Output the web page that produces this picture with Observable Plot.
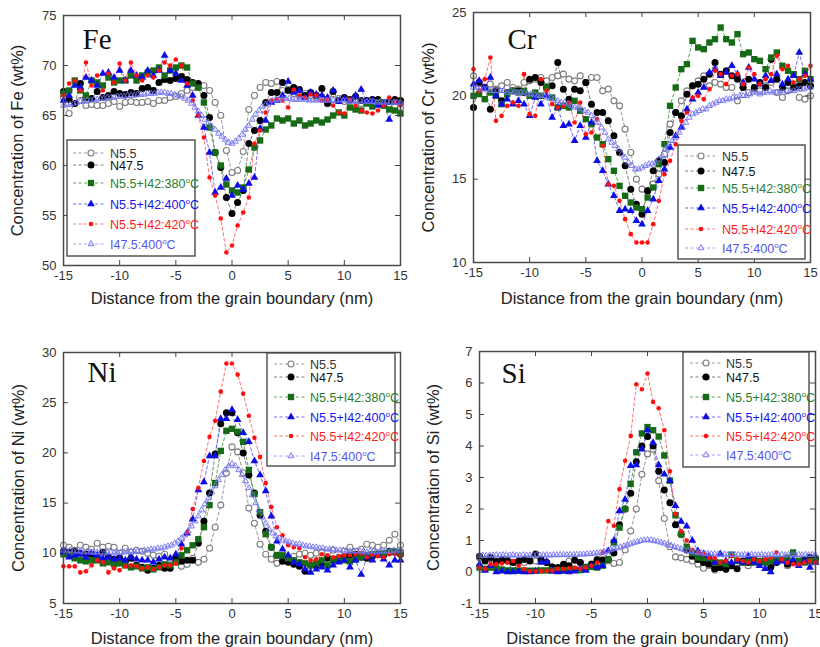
<!DOCTYPE html>
<html><head><meta charset="utf-8">
<script src="https://cdn.jsdelivr.net/npm/d3@7"></script>
<script src="https://cdn.jsdelivr.net/npm/@observablehq/plot@0.6"></script>
<style>
body{margin:0;background:#fff;}
#wrap{position:relative;width:820px;height:647px;overflow:hidden;font-family:"Liberation Sans",Arial,sans-serif;background:#fff;}
.panel{position:absolute;}
.panel svg{position:absolute;left:0;top:0;overflow:visible;}
</style></head><body><div id="wrap"></div>
<script>
// ---------- DATA ----------
const xs = [-15,-14.5,-14,-13.5,-13,-12.5,-12,-11.5,-11,-10.5,-10,-9.5,-9,-8.5,-8,-7.5,-7,-6.5,-6,-5.5,-5,-4.5,-4,-3.5,-3,-2.5,-2,-1.5,-1,-0.5,0,0.5,1,1.5,2,2.5,3,3.5,4,4.5,5,5.5,6,6.5,7,7.5,8,8.5,9,9.5,10,10.5,11,11.5,12,12.5,13,13.5,14,14.5,15];
const xsDense = [-15,-14.7,-14.4,-14.1,-13.8,-13.5,-13.2,-12.9,-12.6,-12.3,-12,-11.7,-11.4,-11.1,-10.8,-10.5,-10.2,-9.9,-9.6,-9.3,-9,-8.7,-8.4,-8.1,-7.8,-7.5,-7.2,-6.9,-6.6,-6.3,-6,-5.7,-5.4,-5.1,-4.8,-4.5,-4.2,-3.9,-3.6,-3.3,-3,-2.7,-2.4,-2.1,-1.8,-1.5,-1.2,-0.9,-0.6,-0.3,0,0.3,0.6,0.9,1.2,1.5,1.8,2.1,2.4,2.7,3,3.3,3.6,3.9,4.2,4.5,4.8,5.1,5.4,5.7,6,6.3,6.6,6.9,7.2,7.5,7.8,8.1,8.4,8.7,9,9.3,9.6,9.9,10.2,10.5,10.8,11.1,11.4,11.7,12,12.3,12.6,12.9,13.2,13.5,13.8,14.1,14.4,14.7,15];

const seriesBase = ["N5.5","N47.5","N5.5+I42:380","N5.5+I42:400","N5.5+I42:420","I47.5:400"];
const seriesHasTemp = [false,false,true,true,true,true];
const xTicks = [-15,-10,-5,0,5,10,15];
const xTitle = "Distance from the grain boundary (nm)";

// Fe
const feTicks = [50,55,60,65,70,75];
const feN55 = [66.8,65.2,66.2,66.5,66.0,66.1,66.0,66.0,66.2,66.4,
 65.9,66.3,66.4,66.3,66.3,66.4,66.2,66.5,66.5,66.8,
 66.9,67.2,67.5,67.8,67.8,68.0,67.5,66.3,65.0,61.5,
 59.3,59.5,61.4,65.6,67.0,67.8,68.3,68.2,68.4,67.5,
 67.6,67.2,67.0,67.2,67.0,66.8,66.8,66.5,66.6,66.7,
 66.4,66.5,66.6,66.2,66.3,66.2,66.3,66.0,66.1,65.9,65.8];
const feN475 = [67.4,66.6,66.2,68.2,66.8,66.7,67.4,66.8,67.0,67.4,
 67.2,67.1,67.3,67.2,67.7,67.8,67.5,68.3,68.6,68.5,
 68.7,68.9,68.6,68.3,68.2,67.0,64.8,61.3,59.8,56.8,
 55.2,56.3,57.5,62.2,63.5,64.5,66.3,67.3,67.3,68.3,
 67.5,67.8,67.6,67.0,67.3,67.0,67.7,66.2,67.4,66.5,
 66.8,66.6,66.9,66.5,66.5,66.6,66.6,66.3,66.4,66.6,66.5];
const fe380 = [67.2,67.5,68.5,67.5,67.0,68.5,68.3,68.0,68.8,68.3,
 68.5,68.5,69.0,68.5,69.0,69.3,69.5,69.8,69.0,69.5,
 69.8,70.0,69.8,68.2,67.8,66.3,63.8,61.3,60.0,58.1,
 57.5,57.3,57.8,59.6,61.8,62.5,63.6,64.0,64.7,64.5,
 64.7,64.2,64.5,64.0,64.2,64.5,64.3,64.6,65.0,65.3,
 65.0,65.8,65.6,65.5,66.2,65.9,66.3,66.0,65.6,65.5,65.2];
const fe400 = [66.5,67.0,68.0,67.8,68.8,68.5,68.0,69.2,69.3,68.8,
 69.5,68.5,69.5,69.0,68.8,69.5,69.0,69.5,71.0,69.5,
 69.2,68.5,68.0,67.0,65.0,63.8,61.3,57.3,57.8,58.7,
 57.0,58.0,57.6,58.2,58.8,63.7,64.5,66.3,66.5,67.0,
 68.4,67.3,67.5,66.8,67.3,67.1,67.0,66.8,67.5,66.4,
 66.7,66.5,67.0,67.6,66.4,66.5,66.0,66.2,64.6,66.3,66.3];
const fe420 = [67.0,68.2,68.5,67.5,70.3,68.0,69.0,67.5,69.2,68.3,
 70.2,68.5,70.3,69.0,68.5,69.0,68.8,69.5,70.3,70.0,
 70.6,70.0,68.2,66.5,65.0,62.8,58.8,57.0,54.7,51.3,
 52.0,54.0,55.3,56.8,62.2,63.5,65.3,66.5,66.6,66.5,
 65.8,67.6,67.0,66.8,67.1,67.0,66.5,66.6,66.0,65.3,
 65.2,66.6,66.0,65.5,65.3,65.2,65.5,66.0,66.8,66.4,66.0];
const feI475 = [66.0,66.1,66.1,66.2,66.3,66.4,66.4,66.5,66.5,66.6,
 66.6,66.7,66.7,66.8,66.8,66.8,66.9,66.9,66.9,67.0,
 67.0,67.0,67.1,67.1,67.1,67.2,67.2,67.2,67.3,67.3,
 67.3,67.2,67.2,67.1,67.0,66.9,66.7,66.5,66.2,65.8,
 65.4,65.0,64.6,64.3,63.9,63.6,63.2,62.9,62.6,62.3,
 62.2,62.4,62.7,63.1,63.6,64.0,64.6,65.1,65.5,65.9,
 66.1,66.3,66.5,66.6,66.6,66.7,66.7,66.7,66.6,66.6,
 66.6,66.6,66.6,66.5,66.6,66.5,66.6,66.5,66.5,66.5,
 66.5,66.5,66.6,66.5,66.5,66.4,66.5,66.4,66.5,66.4,
 66.4,66.4,66.4,66.3,66.4,66.3,66.4,66.3,66.3,66.3,66.3];

// Cr
const crTicks = [10,15,20,25];
const crN55 = [21.2,20.8,20.5,20.7,20.4,20.6,20.8,20.5,20.4,20.8,
 20.9,21.0,21.1,20.9,21.1,21.2,21.3,21.0,20.9,21.2,
 20.8,21.1,21.1,20.3,20.4,19.7,19.4,18.0,16.6,15.0,
 14.4,14.3,14.7,15.3,16.5,18.3,19.0,19.7,20.3,20.6,
 20.9,21.2,20.6,20.8,20.7,20.5,20.5,19.7,20.5,20.2,
 20.4,20.3,20.6,20.8,20.2,19.9,20.3,20.5,19.9,19.8,20.0];
const crN475 = [19.3,20.8,20.5,19.2,20.3,19.7,20.2,20.3,20.3,20.2,
 21.0,21.1,20.8,20.5,20.6,22.0,20.4,19.8,20.4,20.3,
 20.8,19.5,19.0,19.0,18.5,17.6,16.6,15.8,14.4,13.5,
 12.9,14.3,15.5,16.1,16.0,17.8,19.0,18.8,20.1,20.6,
 20.7,21.0,21.3,22.0,21.3,21.5,21.2,21.0,20.5,21.0,
 20.5,20.8,20.5,22.2,21.0,20.5,20.8,20.5,20.6,20.8,20.6];
const cr380 = [20.0,20.1,19.8,20.2,20.0,19.5,20.1,20.3,20.2,20.3,
 20.0,20.2,20.0,20.5,19.9,19.3,19.4,19.3,19.7,19.1,
 18.6,18.3,17.5,17.1,16.2,15.5,14.6,14.0,13.6,13.3,
 13.2,13.9,14.5,15.9,17.1,19.4,20.5,21.6,21.9,23.3,
 22.9,22.8,23.2,23.4,24.1,23.4,23.2,23.7,22.5,22.6,
 22.2,22.1,21.6,22.3,22.6,21.8,21.5,21.3,21.0,21.5,21.0];
const cr400 = [20.7,20.9,20.5,21.1,20.0,19.5,19.8,19.5,19.7,19.5,
 18.8,19.9,19.5,20.0,18.7,19.3,18.2,18.3,17.3,18.2,
 17.5,18.4,16.1,15.5,14.7,14.0,13.1,13.2,13.1,12.5,
 12.3,13.1,13.8,14.9,15.6,16.9,17.6,18.1,19.2,19.8,
 20.2,20.5,21.4,21.6,21.2,21.4,21.8,21.3,20.8,21.7,
 21.0,20.7,21.2,20.9,21.3,20.7,21.0,21.2,22.6,21.3,21.0];
const cr420 = [21.6,20.3,21.0,22.3,18.5,18.8,19.4,19.6,19.4,21.3,
 18.9,18.8,21.0,20.3,19.5,19.3,19.4,19.6,18.4,19.6,
 17.7,17.8,18.6,17.0,14.7,14.6,13.7,12.6,11.7,11.2,
 11.2,11.2,12.3,13.7,15.3,16.1,17.1,18.5,19.0,19.9,
 20.0,19.8,20.4,21.5,21.3,20.7,21.2,21.3,20.7,21.7,
 21.3,20.7,21.0,21.3,22.4,21.6,21.8,20.8,21.0,21.2,21.8];
const crI475 = [20.5,20.5,20.4,20.4,20.4,20.3,20.3,20.3,20.3,20.3,
 20.2,20.3,20.2,20.2,20.2,20.2,20.1,20.1,20.1,20.0,
 20.0,20.0,19.9,19.9,19.8,19.7,19.6,19.6,19.5,19.4,
 19.3,19.3,19.2,19.1,19.0,18.8,18.6,18.4,18.1,17.8,
 17.4,17.2,17.0,16.8,16.5,16.3,16.0,15.8,15.6,15.6,
 15.7,15.8,15.9,15.9,16.0,16.2,16.4,16.8,17.1,17.3,
 17.5,17.8,18.1,18.4,18.7,18.9,19.0,19.1,19.2,19.2,
 19.4,19.5,19.6,19.7,19.7,19.8,19.8,19.9,19.9,20.0,
 20.0,20.0,20.1,20.2,20.2,20.1,20.2,20.2,20.3,20.2,
 20.2,20.3,20.2,20.3,20.3,20.3,20.4,20.4,20.4,20.5,20.5];

// Ni
const niTicks = [5,10,15,20,25,30];
const niN55 = [10.8,10.6,10.3,10.8,10.6,10.4,11.0,10.6,10.7,10.6,
 10.0,10.5,10.1,10.3,10.2,10.0,9.8,9.7,9.9,9.4,
 9.6,8.7,8.9,9.5,9.1,9.4,10.5,12.6,14.8,18.0,
 20.6,20.1,18.0,14.5,13.0,10.9,9.9,9.4,9.0,9.4,
 9.3,9.7,9.9,10.0,9.8,10.0,10.1,9.6,10.3,9.6,
 10.2,10.6,10.2,10.4,10.9,10.8,10.6,10.8,11.3,11.9,10.8];
const niN475 = [10.2,10.1,10.2,10.0,9.9,9.9,9.6,10.1,9.6,9.4,
 9.5,9.2,9.5,8.8,8.6,8.3,8.5,8.8,8.5,8.5,
 9.5,9.2,9.3,9.3,11.0,13.2,16.0,19.9,22.9,24.0,
 24.0,22.0,20.0,17.8,16.0,13.8,12.2,10.6,9.8,9.2,
 9.1,8.9,8.7,8.2,8.8,8.8,9.0,9.5,9.3,9.4,
 9.6,9.8,9.9,9.6,9.5,9.7,9.9,9.8,10.2,10.1,9.9];
const ni380 = [9.9,9.8,9.5,9.3,9.2,9.3,9.3,9.0,9.1,8.9,
 9.0,8.8,8.6,8.7,8.5,8.6,8.4,8.6,8.9,8.8,
 9.1,9.8,10.3,10.8,11.4,12.6,14.8,17.0,20.2,22.2,
 22.4,22.1,21.1,18.3,15.9,14.1,11.9,10.6,9.8,9.8,
 9.5,9.3,9.1,9.0,8.8,9.0,9.3,8.8,9.4,9.3,
 9.3,9.2,9.4,9.6,9.8,9.9,9.9,10.0,10.1,10.2,10.1];
const ni400 = [10.1,9.6,9.8,9.9,9.6,10.0,9.8,9.5,9.6,9.4,
 9.5,9.3,9.6,9.4,9.3,9.3,9.1,9.4,9.6,9.5,
 9.9,10.9,12.0,13.4,16.3,17.1,19.7,19.7,23.4,23.4,
 24.3,23.3,22.0,21.1,19.2,17.8,16.2,13.7,11.2,10.4,
 9.8,9.1,8.9,8.4,8.1,8.4,8.6,8.3,8.8,9.1,
 9.3,8.6,9.3,7.9,9.6,9.3,9.8,9.4,8.8,9.3,9.3];
const ni420 = [8.7,8.7,8.7,8.1,8.2,8.8,9.3,9.1,8.1,8.5,
 8.3,8.7,8.8,8.7,8.5,8.6,8.4,8.6,8.8,8.8,
 9.0,10.5,12.1,14.4,16.5,19.2,21.6,23.2,26.1,28.9,
 28.9,27.8,25.9,23.7,21.5,19.6,17.0,14.6,12.6,11.8,
 10.8,10.6,10.5,9.6,9.3,9.4,9.9,9.8,9.6,9.7,
 9.8,9.8,9.9,10.0,9.6,9.9,9.7,9.6,9.9,10.0,9.8];
const niI475 = [10.3,10.2,10.3,10.2,10.2,10.2,10.1,10.2,10.1,10.1,
 10.1,10.1,10.0,10.1,10.1,10.0,10.1,10.1,10.1,10.2,
 10.2,10.2,10.2,10.2,10.3,10.3,10.4,10.4,10.5,10.5,
 10.6,10.7,10.8,11.0,11.2,11.5,11.8,12.2,12.7,13.2,
 13.7,14.3,14.9,15.5,16.1,16.7,17.3,17.8,18.3,18.7,
 18.9,18.7,18.3,17.8,17.2,16.5,15.8,15.0,14.3,13.6,
 13.0,12.4,12.0,11.7,11.5,11.3,11.2,11.1,11.0,10.9,
 10.9,10.8,10.7,10.7,10.6,10.6,10.5,10.5,10.4,10.4,
 10.4,10.3,10.3,10.3,10.2,10.2,10.2,10.2,10.2,10.2,
 10.1,10.2,10.2,10.1,10.2,10.2,10.2,10.2,10.3,10.2,10.3];

// Si
const siTicks = [-1,0,1,2,3,4,5,6,7];
const siN55 = [0.45,0.4,0.42,0.35,0.4,0.38,0.2,0.35,0.3,0.4,
 0.35,0.38,0.3,0.16,0.12,0.2,0.35,0.38,0.3,0.16,
 0.25,0.4,0.46,0.35,0.27,0.3,0.7,1.3,2.0,3.1,
 3.75,3.9,2.9,1.7,0.8,0.48,0.45,0.4,0.35,0.25,
 0.12,0.2,0.06,0.14,0.1,0.2,0.25,0.3,0.2,0.35,
 0.3,0.4,0.25,0.3,0.4,0.2,0.3,0.4,0.35,0.3,0.4];
const siN475 = [0.5,0.35,0.46,0.33,0.37,0.35,0.3,0.35,0.4,0.35,
 0.57,0.4,0.3,0.16,0.14,0.25,0.2,0.37,0.3,0.14,
 0.25,0.38,0.38,0.4,0.6,1.5,2.0,2.5,3.5,4.0,
 4.3,4.0,3.2,2.6,2.2,1.5,1.2,0.7,0.5,0.4,
 0.3,0.25,0.1,0.14,0.09,0.2,0.1,0.35,0.3,0.4,
 0.3,0.35,0.14,0.3,0.4,0.25,0.3,0.33,0.37,0.46,0.44];
const si380 = [0.14,0.1,0.14,0.12,0.08,0.05,0.05,0.04,0.04,0.04,
 0.04,0.05,0.05,0.05,0.06,0.05,0.06,0.08,0.06,0.14,
 0.16,0.14,0.2,0.4,0.94,1.41,2.0,2.8,3.8,4.4,
 4.6,4.5,4.3,3.7,2.9,1.8,1.2,0.8,0.6,0.46,
 0.45,0.44,0.3,0.3,0.25,0.55,0.35,0.3,0.35,0.3,
 0.35,0.3,0.35,0.4,0.37,0.45,0.62,0.35,0.3,0.35,0.35];
const si400 = [0.25,0.05,0.2,0.0,0.02,0.0,0.0,0.02,0.0,0.0,
 0.02,0.3,0.33,0.02,0.0,0.02,0.0,0.02,0.1,0.05,
 0.2,0.15,0.2,0.67,1.0,1.94,2.3,3.37,3.4,3.9,
 4.5,4.1,3.4,3.1,2.9,2.1,1.6,1.45,1.0,0.67,
 0.57,0.5,0.3,0.57,0.35,0.3,0.35,0.3,0.5,0.3,
 0.2,0.1,0.0,0.3,0.35,0.3,0.4,0.2,0.35,0.14,0.3];
const si420 = [0.14,0.1,0.25,0.25,0.27,0.3,0.35,0.2,0.09,0.02,
 0.02,0.03,0.04,0.05,0.1,0.1,0.12,0.14,0.1,0.14,
 0.2,0.3,0.62,1.62,1.47,2.63,3.53,4.32,5.96,5.8,
 6.3,5.4,5.2,4.5,3.2,1.84,1.3,1.0,0.7,0.62,
 0.57,0.45,0.44,0.3,0.35,0.51,0.4,0.35,0.3,0.4,
 0.35,0.4,0.45,0.62,0.4,0.3,0.25,0.25,0.3,0.35,0.3];
const siI475 = [0.52,0.53,0.52,0.53,0.53,0.54,0.53,0.54,0.54,0.53,
 0.54,0.53,0.53,0.54,0.53,0.53,0.54,0.54,0.53,0.54,
 0.54,0.53,0.54,0.54,0.54,0.55,0.54,0.55,0.55,0.55,
 0.56,0.56,0.57,0.58,0.59,0.60,0.62,0.64,0.67,0.70,
 0.73,0.76,0.79,0.82,0.86,0.89,0.93,0.96,0.99,1.01,
 1.02,1.01,0.99,0.97,0.94,0.91,0.87,0.84,0.80,0.77,
 0.73,0.70,0.67,0.65,0.63,0.61,0.60,0.59,0.58,0.57,
 0.57,0.56,0.56,0.56,0.55,0.55,0.55,0.55,0.54,0.55,
 0.54,0.55,0.54,0.54,0.55,0.54,0.54,0.55,0.54,0.54,
 0.55,0.54,0.55,0.54,0.54,0.55,0.54,0.55,0.54,0.55,0.54];

// ---------- STYLES ----------
const styles = [
  {line:"#9a9a9a", symbol:"circle",   r:3.0, fill:"white",   stroke:"#7c7c7c", sw:1.1, text:"#333"},
  {line:"#7f7f7f", symbol:"circle",   r:3.5, fill:"#000",    stroke:"none",    sw:0,   text:"#111"},
  {line:"#63a463", symbol:"square",   r:3.6, fill:"#176b17", stroke:"none",    sw:0,   text:"#2b7b2b"},
  {line:"#6b6bff", symbol:"triangle", r:2.9, fill:"#0c0ce6", stroke:"none",    sw:0,   text:"#1414f0"},
  {line:"#ff7070", symbol:"circle",   r:2.3, fill:"#ff1010", stroke:"none",    sw:0,   text:"#ff1a1a"},
  {line:"#9c9cff", symbol:"triangle", r:2.2, fill:"none",    stroke:"#7070f2", sw:0.9, text:"#5555ee"}
];

const panels = [
  {left:0, top:0, w:410, h:320, ml:63, mr:10, mt:15, mb:55, yDomain:[50,75], yTicks:feTicks,
   el:"Fe", elDx:19, elDy:24.7, yLabel:"Concentration of Fe (wt%)", yOff:46, xDy:33,
   series:[feN55,feN475,fe380,fe400,fe420,feI475],
   legend:{box:[67,140,195,256], rows:[153,165,183,204,224,244], line:[73,105], mk:91, tx:110}},
  {left:410, top:0, w:410, h:320, ml:63, mr:10, mt:12, mb:58, yDomain:[10,25], yTicks:crTicks,
   el:"Cr", elDx:34, elDy:27.7, yLabel:"Concentration of Cr (wt%)", yOff:45, xDy:36,
   series:[crN55,crN475,cr380,cr400,cr420,crI475],
   legend:{box:[268,145,395,259], rows:[156,171,188,208,229,248], line:[275,305], mk:291, tx:312}},
  {left:0, top:320, w:410, h:327, ml:63, mr:10, mt:32, mb:44, yDomain:[5,30], yTicks:niTicks,
   el:"Ni", elDx:24, elDy:20.7, yLabel:"Concentration of Ni (wt%)", yOff:45, xDy:35,
   series:[niN55,niN475,ni380,ni400,ni420,niI475],
   legend:{box:[267,33,395,146], rows:[44,57,77,97,116,136], line:[274,307], mk:291, tx:310}},
  {left:410, top:320, w:410, h:327, ml:69, mr:5, mt:31, mb:44, yDomain:[-1,7], yTicks:siTicks,
   el:"Si", elDx:22, elDy:22.7, yLabel:"Concentration of Si (wt%)", yOff:46, xDy:35,
   series:[siN55,siN475,si380,si400,si420,siI475],
   legend:{box:[273,32,399,147], rows:[43,57,77,97,116,135], line:[280,312], mk:296, tx:316}}
];

const wrap = document.getElementById("wrap");

function buildPanel(p) {
  const fh = p.h - p.mt - p.mb, fw = p.w - p.ml - p.mr;
  const marks = [];
  const datasets = p.series.map((vals, i) => {
    const xv = i === 5 ? xsDense : xs;
    return xv.map((x, j) => ({x, y: vals[j]})).filter(d => d.y != null);
  });
  datasets.forEach((data, i) => {
    marks.push(Plot.line(data, {x:"x", y:"y", stroke: styles[i].line, strokeWidth: 1, strokeDasharray: "3,2.5"}));
  });
  datasets.forEach((data, i) => {
    const s = styles[i];
    marks.push(Plot.dot(data, {x:"x", y:"y", symbol: s.symbol, r: s.r, fill: s.fill, stroke: s.stroke, strokeWidth: s.sw}));
  });
  // inward ticks on four sides
  marks.push(Plot.ruleX(xTicks, {x: d => d, insetTop: fh - 5, stroke: "#444"}));
  marks.push(Plot.ruleX(xTicks, {x: d => d, insetBottom: fh - 5, stroke: "#444"}));
  marks.push(Plot.ruleY(p.yTicks, {y: d => d, insetRight: fw - 5, stroke: "#444"}));
  marks.push(Plot.ruleY(p.yTicks, {y: d => d, insetLeft: fw - 5, stroke: "#444"}));
  marks.push(Plot.frame({stroke: "#4a4a4a", strokeWidth: 1.5}));
  marks.push(Plot.axisX(xTicks, {anchor: "bottom", tickSize: 0, tickPadding: 5, fontSize: 13, label: null, tickFormat: d => String(d)}));
  marks.push(Plot.axisY(p.yTicks, {anchor: "left", tickSize: 0, tickPadding: 7, fontSize: 13, label: null, tickFormat: d => String(d)}));
  marks.push(Plot.text([xTitle], {text: d => d, frameAnchor: "bottom", dy: p.xDy, textAnchor: "middle", lineAnchor: "middle", fontSize: 16.5, fill: "#222"}));
  marks.push(Plot.text([p.yLabel], {text: d => d, frameAnchor: "left", dx: -p.yOff, rotate: -90, textAnchor: "middle", lineAnchor: "middle", fontSize: 16.5, fill: "#222"}));
  marks.push(Plot.text([p.el], {text: d => d, frameAnchor: "top-left", dx: p.elDx, dy: p.elDy, textAnchor: "start", lineAnchor: "middle", fontSize: 29, fontFamily: "'Liberation Serif','Times New Roman',serif", fill: "#111"}));

  const chart = Plot.plot({
    width: p.w, height: p.h,
    marginLeft: p.ml, marginRight: p.mr, marginTop: p.mt, marginBottom: p.mb,
    x: {domain: [-15, 15]},
    y: {domain: p.yDomain},
    style: {fontFamily: "'Liberation Sans', Arial, sans-serif", background: "transparent", color: "#333", overflow: "visible"},
    marks
  });

  const div = document.createElement("div");
  div.className = "panel";
  div.style.left = p.left + "px"; div.style.top = p.top + "px";
  div.style.width = p.w + "px"; div.style.height = p.h + "px";
  div.appendChild(chart);
  wrap.appendChild(div);

  // legend overlay
  const L = p.legend;
  const svg = d3.select(div).append("svg").attr("width", p.w).attr("height", p.h)
    .style("font-family", "'Liberation Sans', Arial, sans-serif");
  svg.append("rect").attr("x", L.box[0]).attr("y", L.box[1])
    .attr("width", L.box[2] - L.box[0]).attr("height", L.box[3] - L.box[1])
    .attr("fill", "white").attr("stroke", "#4a4a4a").attr("stroke-width", 1.4);
  const symMap = {circle: d3.symbolCircle, square: d3.symbolSquare, triangle: d3.symbolTriangle};
  L.rows.forEach((ry, i) => {
    const s = styles[i];
    svg.append("line").attr("x1", L.line[0]).attr("x2", L.line[1]).attr("y1", ry).attr("y2", ry)
      .attr("stroke", s.line).attr("stroke-width", 1).attr("stroke-dasharray", "3,2.5");
    svg.append("path").attr("transform", `translate(${L.mk},${ry})`)
      .attr("d", d3.symbol().type(symMap[s.symbol]).size(Math.PI * s.r * s.r)())
      .attr("fill", s.fill).attr("stroke", s.stroke).attr("stroke-width", s.sw);
    const t = svg.append("text").attr("x", L.tx).attr("y", ry + 4.5).attr("font-size", 12.5).attr("fill", s.text);
    t.append("tspan").text(seriesBase[i]);
    if (seriesHasTemp[i]) {
      t.append("tspan").attr("dy", -5).attr("font-size", 8).text("o");
      t.append("tspan").attr("dy", 5).text("C");
    }
  });
}

panels.forEach(buildPanel);
</script>
</body></html>
